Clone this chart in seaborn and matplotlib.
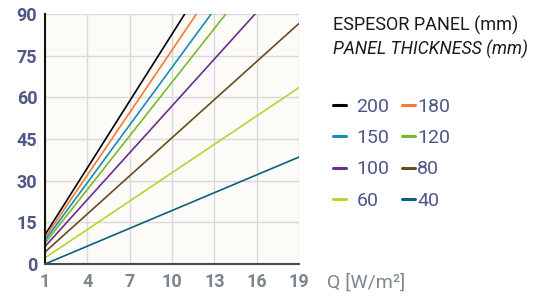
import matplotlib
matplotlib.use("Agg")
import matplotlib.pyplot as plt
import matplotlib.ticker as mticker
import seaborn as sns
import pandas as pd
from matplotlib.lines import Line2D

# ---- data ----
q_points = [1, 19]
thickness = ["200", "180", "150", "120", "100", "80", "60", "40"]
val_200 = [10.5, 155.0]
val_180 = [9.5, 144.5]
val_150 = [8.5, 133.1]
val_120 = [7.5, 123.4]
val_100 = [6.3, 107.5]
val_80 = [4.3, 86.6]
val_60 = [2.2, 63.5]
val_40 = [0.0, 38.5]
colors = ["#000000", "#f47a35", "#168db4", "#79b92c", "#6b2d8e", "#6b4a1f", "#b7d432", "#0d617d"]
x_ticks = [1, 4, 7, 10, 13, 16, 19]
y_ticks = [0, 15, 30, 45, 60, 75, 90]

series = [val_200, val_180, val_150, val_120, val_100, val_80, val_60, val_40]
rows = []
for name, vals in zip(thickness, series):
    for q, v in zip(q_points, vals):
        rows.append({"Q": q, "val": v, "thk": name})
df = pd.DataFrame(rows)
palette = dict(zip(thickness, colors))

sns.set_theme(style="white")
plt.rcParams["font.family"] = ["Roboto", "DejaVu Sans"]

fig = plt.figure(figsize=(5.42, 2.96), dpi=100)
ax = fig.add_axes([45 / 542, 1 - 264 / 296, 254 / 542, 250 / 296])
ax.set_facecolor("#fcfbf8")

sns.lineplot(data=df, x="Q", y="val", hue="thk", hue_order=thickness,
             palette=palette, legend=False, ax=ax, linewidth=1.2)

ax.set_xlim(1, 19)
ax.set_ylim(0, 90)
ax.set_xticks(x_ticks)
ax.set_yticks(y_ticks)
ax.xaxis.set_minor_locator(mticker.MultipleLocator(1))
ax.yaxis.set_minor_locator(mticker.MultipleLocator(5))
ax.grid(True, which="major", color="#d9d9d9", linewidth=1.0)
ax.set_axisbelow(True)

for s in ["top", "right"]:
    ax.spines[s].set_visible(False)
ax.spines["left"].set_color("#111111")
ax.spines["left"].set_linewidth(1.5)
ax.spines["bottom"].set_color("#4a4a4a")
ax.spines["bottom"].set_linewidth(1.5)

ax.tick_params(axis="both", which="major", direction="inout", length=7, width=1.3, color="#111111")
ax.tick_params(axis="both", which="minor", direction="in", length=3, width=0.8, color="#cccccc")
ax.tick_params(axis="x", which="major", pad=3, labelcolor="#7d868e", labelsize=13)
ax.tick_params(axis="y", which="major", pad=2, labelcolor="#4e5785", labelsize=13)
for lab in ax.get_xticklabels() + ax.get_yticklabels():
    lab.set_fontweight("bold")

ax.set_xlabel("Q [W/m²]", color="#7d868e", fontsize=14, ha="left", va="center")
ax.xaxis.set_label_coords((327 - 45) / 254, (264 - 283) / 250)
ax.set_ylabel("")

# legend title
fig.text(333 / 542, 1 - 16 / 296, "ESPESOR PANEL (mm)", fontsize=13, color="#1a1a1a",
         ha="left", va="top")
fig.text(333 / 542, 1 - 40 / 296, "PANEL THICKNESS (mm)", fontsize=12.7, color="#1a1a1a",
         ha="left", va="top", style="italic")

handles = {}
for name, col in zip(thickness, colors):
    handles[name] = Line2D([], [], color=col, linewidth=2.2)

col1 = ["200", "150", "100", "60"]
col2 = ["180", "120", "80", "40"]
common = dict(loc="upper left", frameon=False, borderpad=0, borderaxespad=0,
              handlelength=0.65, labelspacing=0.68, fontsize=14, labelcolor="#4e5785")
leg1 = fig.legend([handles[k] for k in col1], col1, bbox_to_anchor=(333 / 542, 1 - 98 / 296),
                  handletextpad=0.55, **common)
leg2 = fig.legend([handles[k] for k in col2], col2, bbox_to_anchor=(402 / 542, 1 - 98 / 296),
                  handletextpad=0.12, **common)

fig.savefig("out.png", dpi=100, facecolor="white")
